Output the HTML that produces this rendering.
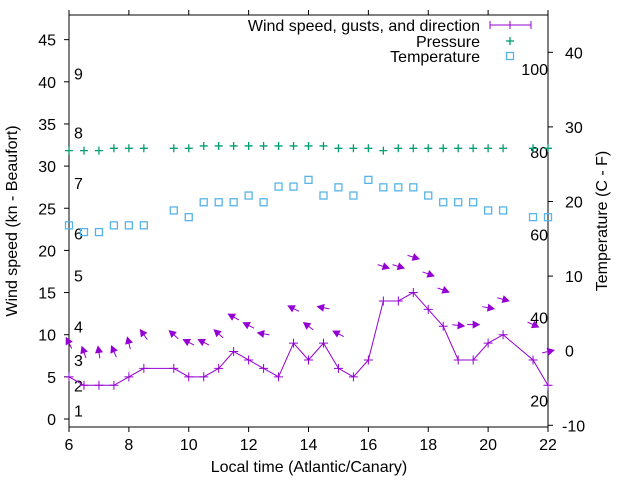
<!DOCTYPE html>
<html><head><meta charset="utf-8"><style>
html,body{margin:0;padding:0;background:#fff}
svg{display:block;font-family:"Liberation Sans",sans-serif}
</style></head><body>
<svg id="chart" width="640" height="480" viewBox="0 0 640 480" xmlns="http://www.w3.org/2000/svg">
<rect x="0" y="0" width="640" height="480" fill="#fff"/>
<g id="axes"></g>
<g id="marks"></g>
<text x="309" y="472" font-size="16" text-anchor="middle">Local time (Atlantic/Canary)</text>
<text transform="translate(17,221) rotate(-90)" font-size="16" text-anchor="middle">Wind speed (kn - Beaufort)</text>
<text transform="translate(607,221) rotate(-90)" font-size="16" text-anchor="middle">Temperature (C - F)</text>
<g font-size="16" text-anchor="end">
<text x="480" y="31">Wind speed, gusts, and direction</text>
<text x="480" y="47">Pressure</text>
<text x="480" y="62">Temperature</text>
<g stroke="#9400d3" stroke-width="1">
<line x1="490" y1="25" x2="531" y2="25"/><line x1="490" y1="21" x2="490" y2="29"/><line x1="531" y1="21" x2="531" y2="29"/><line x1="510" y1="21" x2="510" y2="29"/></g>
<g stroke="#009e73" stroke-width="1.3"><line x1="506" y1="41" x2="514" y2="41"/><line x1="510" y1="37" x2="510" y2="45"/></g>
<rect x="506.5" y="52.5" width="7" height="7" fill="none" stroke="#56b4e9" stroke-width="1.3"/>
</g>
</svg>
<script>
const hours = [6,6.5,7,7.5,8,8.5,9.5,10,10.5,11,11.5,12,12.5,13,13.5,14,14.5,15,15.5,16,16.5,17,17.5,18,18.5,19,19.5,20,20.5,21.5,22];
const windSpeed = [5,4,4,4,5,6,6,5,5,6,8,7,6,5,9,7,9,6,5,7,14,14,15,13,11,7,7,9,10,7,4];
const pressure = [1016,1016,1016,1017,1017,1017,1017,1017,1018,1018,1018,1018,1018,1018,1018,1018,1018,1017,1017,1017,1016,1017,1017,1017,1017,1017,1017,1017,1017,1017,1017];
const temperature = [16.8,15.9,15.9,16.8,16.8,16.8,18.8,17.9,19.9,19.9,19.9,20.8,19.9,22.0,22.0,22.9,20.8,21.9,20.8,22.9,21.9,21.9,21.9,20.8,19.9,19.9,19.9,18.8,18.8,17.9,17.9];
const gustHours = [6,6.5,7,7.5,8,8.5,9.5,10,10.5,11,11.5,12,12.5,13.5,14,14.5,15,16.5,17,17.5,18,18.5,19,19.5,20,20.5,21.5,22];
const gust = [9.0,7.9,7.9,8.0,9.0,10.0,10.0,9.1,9.1,10.1,12.1,11.1,10.1,13.1,11.0,13.2,10.1,18.1,18.1,19.2,17.2,15.3,11.1,11.2,13.2,14.2,11.2,8.0];
const windDir = [153,160,171,156,166,145,132,117,117,132,119,117,100,117,127,101,117,287,287,287,290,290,276,270,280,285,294,257];
const xTicks = [6,8,10,12,14,16,18,20,22];
const yTicks = [0,5,10,15,20,25,30,35,40,45];
const y2Ticks = [-10,0,10,20,30,40];
const fahrenheitLabels = [20,40,60,80,100];
const beaufortLabels = [1,2,3,4,5,6,7,8,9];
const beaufortKnots = [1,4,7,11,17,22,28,34,41];

const L=69,R=548,T=15,B=427;
function xS(h){return L+(h-6)*(R-L)/16;}
function yL(k){return 419-k*8.43;}
function yR(c){return 350.7-c*7.46;}
function yP(p){return 148.3-(p-1017)*2.35;}
const NS='http://www.w3.org/2000/svg';
function mk(tag,attrs,parent){const e=document.createElementNS(NS,tag);for(const k in attrs)e.setAttribute(k,attrs[k]);parent.appendChild(e);return e;}
const axes=document.getElementById('axes');
const marks=document.getElementById('marks');

let fr=mk('rect',{x:L,y:T,width:R-L,height:B-T,fill:'none',stroke:'#000','stroke-width':1},axes);



xTicks.forEach(h=>{
  const x=xS(h);
  let t=mk('line',{x1:x,y1:B,x2:x,y2:B+5,stroke:'#000'},axes);
  
  
  let t2=mk('line',{x1:x,y1:T,x2:x,y2:T-5,stroke:'#000'},axes);
  
  
  let l=mk('text',{x:x,y:450,'font-size':16,'text-anchor':'middle'},axes);
  l.textContent=h;
  
  
});
yTicks.forEach(v=>{
  const y=yL(v);
  let t=mk('line',{x1:L-5,y1:y,x2:L,y2:y,stroke:'#000'},axes);
  
  
  let l=mk('text',{x:56,y:y+6,'font-size':16,'text-anchor':'end'},axes);
  l.textContent=v;
  
  
});
y2Ticks.forEach(v=>{
  const y=yR(v);
  let t=mk('line',{x1:R,y1:y,x2:R+5,y2:y,stroke:'#000'},axes);
  
  
  let l=mk('text',{x:v<0?562:565,y:y+6,'font-size':16,'text-anchor':'start'},axes);
  l.textContent=v;
  
  
});
fahrenheitLabels.forEach(f=>{
  const c=(f-32)*5/9;
  let l=mk('text',{x:548,y:yR(c)+6,'font-size':16,'text-anchor':'end'},axes);
  l.textContent=f;
  
  
});
beaufortLabels.forEach((b,i)=>{
  let l=mk('text',{x:74,y:yL(beaufortKnots[i])+6,'font-size':16,'text-anchor':'start'},axes);
  l.textContent=b;
  
  
});

// pressure
pressure.forEach((p,i)=>{
  const x=xS(hours[i]),y=yP(p);
  let g=mk('path',{d:`M${x-4},${y}H${x+4}M${x},${y-4}V${y+4}`,stroke:'#009e73','stroke-width':1.3,fill:'none'},marks);
  
  
});
// temperature
temperature.forEach((c,i)=>{
  const x=xS(hours[i]),y=yR(c);
  let r=mk('rect',{x:x-3.5,y:y-3.5,width:7,height:7,fill:'none',stroke:'#56b4e9','stroke-width':1.3},marks);
  
  
});
// wind line
let pl=mk('polyline',{points:windSpeed.map((w,i)=>xS(hours[i])+','+yL(w)).join(' '),fill:'none',stroke:'#9400d3','stroke-width':1},marks);


windSpeed.forEach((w,i)=>{
  const x=xS(hours[i]),y=yL(w);
  let g=mk('path',{d:`M${x-4.5},${y}H${x+4.5}M${x},${y-4.5}V${y+4.5}`,stroke:'#9400d3','stroke-width':1,fill:'none'},marks);
  
  
});
// gust arrows
gust.forEach((g,i)=>{
  const cx=xS(gustHours[i]),cy=yL(g);
  const d=windDir[i]*Math.PI/180;
  const vx=-Math.sin(d),vy=Math.cos(d);
  const len=12;
  const hx=cx+vx*len/2,hy=cy+vy*len/2,tx=cx-vx*len/2,ty=cy-vy*len/2;
  const px=-vy,py=vx,hl=6,hw=3.2;
  const bx=hx-vx*hl,by=hy-vy*hl;
  const grp=mk('g',{},marks);
  
  
  mk('line',{x1:tx,y1:ty,x2:hx,y2:hy,stroke:'#9400d3','stroke-width':1},grp);
  mk('polygon',{points:`${hx},${hy} ${bx+px*hw},${by+py*hw} ${bx-px*hw},${by-py*hw}`,fill:'#9400d3',stroke:'#9400d3','stroke-width':1},grp);
});
</script>
</body></html>
